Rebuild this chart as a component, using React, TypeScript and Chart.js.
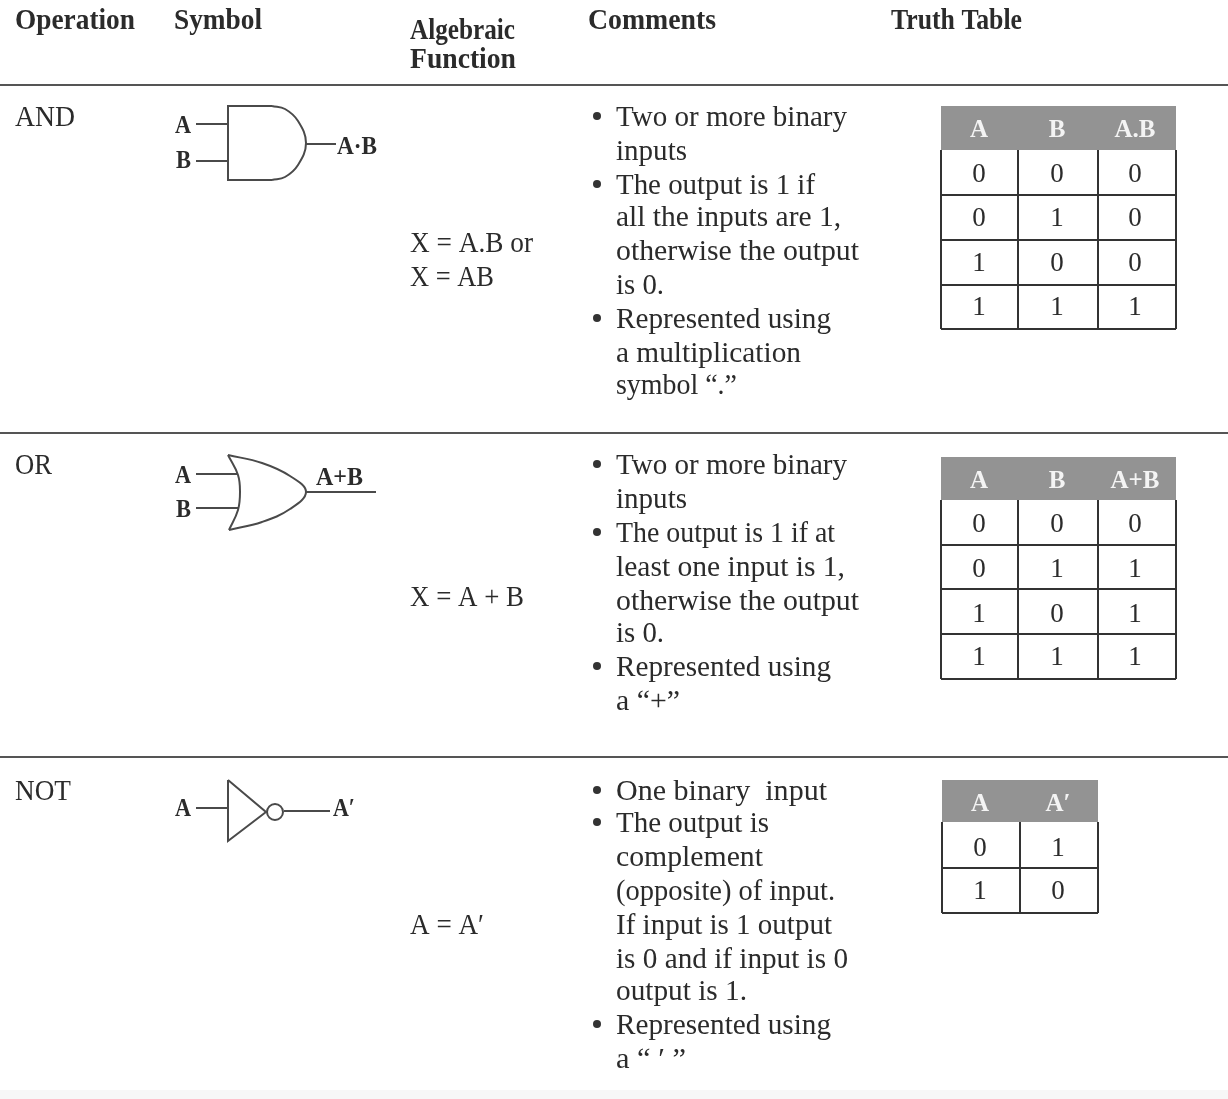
import React, { useEffect, useRef } from "react";
import { Chart, registerables } from "chart.js";

Chart.register(...registerables);

type Txt = [string, number, number, number];
type Pt = { x: number; y: number };

const SERIF = '"Liberation Serif", serif';
const INK = "#2b2b2b";
const HEAD_FILL = "#939393";

const headers: Txt[] = [
  ["Operation", 15, 29, 120],
  ["Symbol", 174, 29, 88],
  ["Algebraic", 410, 39, 105],
  ["Function", 410, 68, 106],
  ["Comments", 588, 29, 128],
  ["Truth Table", 891, 29, 131],
];

const operations: Txt[] = [
  ["AND", 15, 126, 60],
  ["OR", 15, 474, 37],
  ["NOT", 15, 800, 56],
];

const algebra: Txt[] = [
  ["X = A.B or", 410, 252, 123],
  ["X = AB", 410, 286, 84],
  ["X = A + B", 410, 606, 114],
  ["A = A′", 410, 934, 74],
];

const comments: Txt[] = [
  ["Two or more binary", 616, 126, 231],
  ["inputs", 616, 160, 71],
  ["The output is 1 if", 616, 194, 199],
  ["all the inputs are 1,", 616, 226, 225],
  ["otherwise the output", 616, 260, 243],
  ["is 0.", 616, 294, 48],
  ["Represented using", 616, 328, 215],
  ["a multiplication", 616, 362, 185],
  ["symbol “.”", 616, 394, 121],
  ["Two or more binary", 616, 474, 231],
  ["inputs", 616, 508, 71],
  ["The output is 1 if at", 616, 542, 219],
  ["least one input is 1,", 616, 576, 229],
  ["otherwise the output", 616, 610, 243],
  ["is 0.", 616, 642, 48],
  ["Represented using", 616, 676, 215],
  ["a “+”", 616, 710, 64],
  ["One binary  input", 616, 800, 211],
  ["The output is", 616, 832, 153],
  ["complement", 616, 866, 147],
  ["(opposite) of input.", 616, 900, 219],
  ["If input is 1 output", 616, 934, 216],
  ["is 0 and if input is 0", 616, 968, 232],
  ["output is 1.", 616, 1000, 131],
  ["Represented using", 616, 1034, 215],
  ["a “ ′ ”", 616, 1068, 70],
];

const gateLabels: Txt[] = [
  ["A", 175, 133, 16],
  ["B", 176, 168, 15],
  ["A·B", 337, 154, 40],
  ["A", 175, 483, 16],
  ["B", 176, 517, 15],
  ["A+B", 316, 485, 47],
  ["A", 175, 816, 16],
  ["A′", 333, 816, 22],
];

const bullets: Pt[] = [
  { x: 597, y: 116 }, { x: 597, y: 184 }, { x: 597, y: 318 },
  { x: 597, y: 464 }, { x: 597, y: 532 }, { x: 597, y: 666 },
  { x: 597, y: 790 }, { x: 597, y: 822 }, { x: 597, y: 1024 },
];

const rules: Pt[][] = [
  [{ x: 0, y: 85 }, { x: 1228, y: 85 }],
  [{ x: 0, y: 433 }, { x: 1228, y: 433 }],
  [{ x: 0, y: 757 }, { x: 1228, y: 757 }],
];

const gateLines: Pt[][] = [
  // AND
  [{ x: 272, y: 106 }, { x: 228, y: 106 }, { x: 228, y: 180 }, { x: 272, y: 180 }],
  [{ x: 196, y: 124 }, { x: 228, y: 124 }],
  [{ x: 196, y: 161 }, { x: 228, y: 161 }],
  [{ x: 306, y: 144 }, { x: 336, y: 144 }],
  // OR
  [{ x: 196, y: 474 }, { x: 237, y: 474 }],
  [{ x: 196, y: 508 }, { x: 238, y: 508 }],
  [{ x: 306, y: 492 }, { x: 376, y: 492 }],
  // NOT
  [{ x: 228, y: 780 }, { x: 228, y: 841 }, { x: 266, y: 812 }, { x: 228, y: 780 }],
  [{ x: 196, y: 808 }, { x: 228, y: 808 }],
  [{ x: 284, y: 811 }, { x: 330, y: 811 }],
];

const gateCurves: Pt[][] = [
  [{ x: 272, y: 106 }, { x: 285, y: 109 }, { x: 298, y: 121 }, { x: 306, y: 143 }, { x: 298, y: 165 }, { x: 285, y: 177 }, { x: 272, y: 180 }],
  [{ x: 228, y: 455 }, { x: 238, y: 475 }, { x: 240, y: 492 }, { x: 238, y: 510 }, { x: 229, y: 530 }],
  [{ x: 228, y: 455 }, { x: 262, y: 463 }, { x: 290, y: 476 }, { x: 306, y: 492 }, { x: 290, y: 509 }, { x: 262, y: 522 }, { x: 229, y: 530 }],
];

const notBubble: Pt[] = [{ x: 275, y: 812 }];

const tableColsAB = [941, 1018, 1098, 1176];
const tableColsNot = [942, 1020, 1098];

const tableAnd = { top: 106, head: 150, lines: [195, 240, 285, 329] };
const tableOr = { top: 457, head: 500, lines: [545, 589, 634, 679] };
const tableNot = { top: 780, head: 822, lines: [868, 913] };

const valueColsAB = [979, 1057, 1135];
const valueColsNot = [980, 1058];

const headAnd = ["A", "B", "A.B"];
const headOr = ["A", "B", "A+B"];
const headNot = ["A", "A′"];

const rowsAnd = [["0", "0", "0"], ["0", "1", "0"], ["1", "0", "0"], ["1", "1", "1"]];
const rowsOr = [["0", "0", "0"], ["0", "1", "1"], ["1", "0", "1"], ["1", "1", "1"]];
const rowsNot = [["0", "1"], ["1", "0"]];

const rowYAnd = [182, 226, 271, 315];
const rowYOr = [532, 577, 622, 665];
const rowYNot = [856, 899];
const headYAnd = 137;
const headYOr = 488;
const headYNot = 811;

const line = (data: Pt[], width: number, color: string, tension = 0) => ({
  type: "scatter" as const,
  data,
  showLine: true,
  borderColor: color,
  backgroundColor: color,
  borderWidth: width,
  pointRadius: 0,
  tension,
  clip: false,
});

function tableSets(cols: number[], t: { top: number; head: number; lines: number[] }) {
  const sets: any[] = [];
  const first = cols[0];
  const last = cols[cols.length - 1];
  const bandY = (t.top + t.head) / 2;
  sets.push(line([{ x: first, y: bandY }, { x: last, y: bandY }], t.head - t.top, HEAD_FILL));
  const bottom = t.lines[t.lines.length - 1];
  cols.forEach((c) => sets.push(line([{ x: c, y: t.head }, { x: c, y: bottom }], 2, "#333333")));
  t.lines.forEach((y) => sets.push(line([{ x: first, y }, { x: last, y }], 2, "#333333")));
  return sets;
}

const footBand: Pt[] = [{ x: 0, y: 1095 }, { x: 1228, y: 1095 }];

export default function App() {
  const ref = useRef<HTMLCanvasElement>(null);
  useEffect(() => {
    if (!ref.current) return;
    const textPlugin = {
      id: "tableText",
      afterDatasetsDraw(chart: any) {
        const { ctx, scales } = chart;
        const X = (v: number) => scales.x.getPixelForValue(v);
        const Y = (v: number) => scales.y.getPixelForValue(v);
        ctx.save();
        ctx.textBaseline = "alphabetic";
        const fit = (items: Txt[], font: string, color: string) => {
          ctx.font = font;
          ctx.fillStyle = color;
          ctx.textAlign = "left";
          items.forEach(([s, x, y, w]) => {
            const m = ctx.measureText(s).width;
            ctx.save();
            ctx.translate(X(x), Y(y));
            ctx.scale(w / m, 1);
            ctx.fillText(s, 0, 0);
            ctx.restore();
          });
        };
        const centered = (rows: string[][], cols: number[], ys: number[], font: string, color: string) => {
          ctx.font = font;
          ctx.fillStyle = color;
          ctx.textAlign = "center";
          rows.forEach((r, i) => r.forEach((s, j) => ctx.fillText(s, X(cols[j]), Y(ys[i]))));
        };
        ctx.filter = "blur(0.4px)";
        fit(headers, `bold 30px ${SERIF}`, INK);
        fit(operations, `30px ${SERIF}`, INK);
        fit(algebra, `30px ${SERIF}`, INK);
        fit(comments, `30px ${SERIF}`, INK);
        fit(gateLabels, `bold 26px ${SERIF}`, INK);
        centered(rowsAnd, valueColsAB, rowYAnd, `27px ${SERIF}`, INK);
        centered(rowsOr, valueColsAB, rowYOr, `27px ${SERIF}`, INK);
        centered(rowsNot, valueColsNot, rowYNot, `27px ${SERIF}`, INK);
        centered([headAnd], valueColsAB, [headYAnd], `bold 25px ${SERIF}`, "#f4f4f4");
        centered([headOr], valueColsAB, [headYOr], `bold 25px ${SERIF}`, "#f4f4f4");
        centered([headNot], valueColsNot, [headYNot], `bold 25px ${SERIF}`, "#f4f4f4");
        ctx.restore();
      },
    };
    const datasets: any[] = [
      line(footBand, 10, "#f7f7f7"),
      ...rules.map((d) => line(d, 2, "#555555")),
      ...gateLines.map((d) => line(d, 2, "#4a4a4a")),
      ...gateCurves.map((d) => line(d, 2, "#4a4a4a", 0.4)),
      ...tableSets(tableColsAB, tableAnd),
      ...tableSets(tableColsAB, tableOr),
      ...tableSets(tableColsNot, tableNot),
      {
        type: "scatter",
        data: notBubble,
        pointRadius: 8,
        pointBackgroundColor: "#ffffff",
        pointBorderColor: "#4a4a4a",
        pointBorderWidth: 2,
        clip: false,
      },
      {
        type: "scatter",
        data: bullets,
        pointRadius: 4,
        pointBackgroundColor: "#333333",
        pointBorderWidth: 0,
        clip: false,
      },
    ];
    const chart = new Chart(ref.current, {
      type: "scatter",
      data: { datasets },
      options: {
        animation: false,
        responsive: false,
        layout: { padding: 0, autoPadding: false },
        plugins: { legend: { display: false }, tooltip: { enabled: false } },
        scales: {
          x: { type: "linear", min: 0, max: 1228, display: false },
          y: { type: "linear", min: 0, max: 1099, reverse: true, display: false },
        },
      },
      plugins: [textPlugin],
    } as any);
    return () => chart.destroy();
  }, []);
  return (
    <div style={{ position: "absolute", left: 0, top: 0, width: 1228, height: 1099, background: "#ffffff" }}>
      <canvas ref={ref} width={1228} height={1099} style={{ display: "block" }} />
    </div>
  );
}
